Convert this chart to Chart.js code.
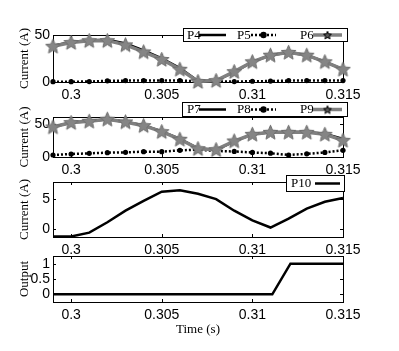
<!DOCTYPE html>
<html><head><meta charset="utf-8">
<script src="https://cdn.jsdelivr.net/npm/chart.js@4"></script>
<style>
html,body{margin:0;padding:0;background:#fff;}
#wrap{position:relative;width:399px;height:351px;overflow:hidden;}
canvas{position:absolute;left:0;top:0;}
</style></head><body>
<div id="wrap">
<canvas id="c1" width="399" height="351"></canvas>
<canvas id="c2" width="399" height="351"></canvas>
<canvas id="c3" width="399" height="351"></canvas>
<canvas id="c4" width="399" height="351"></canvas>
</div>
<script>
// ---- data ----
const time = [0.299,0.300,0.301,0.302,0.303,0.304,0.305,0.306,0.307,0.308,0.309,0.310,0.311,0.312,0.313,0.314,0.315];
const xTicks = [0.3,0.305,0.31,0.315];
const p4 = [38.5,42.5,44.5,45,41,33.5,25.2,14.8,1,1.5,10.5,21.5,28.5,31.5,28.5,21.5,13.5];
const p5 = [0.3,0.3,0.5,1.2,1.5,1.5,1.5,1.5,0.8,0.5,0.5,0.8,1,1.5,1.5,1.5,1.5];
const p6 = [38,42,44,44,39.5,32,24,13.5,0.5,1.5,11,21.5,28.5,31.5,28.5,21.5,13.5];
const p7 = [45,51.6,53.6,56.7,52.6,47.5,38.5,27,13,10.5,23.5,34,37,37.5,37.5,35,27];
const p8 = [3,4.5,5.5,6.5,7,8,8,10,11,9,8.3,6.8,5.7,3,4.7,6.8,10];
const p9 = [45,51.6,53.6,56.7,52.6,47,38,26.6,12.5,11,24,34,37,37,37,34,25];
const p10 = [-1.3,-1.3,-0.67,1.1,3.05,4.7,6.27,6.5,5.9,5.0,3.05,1.4,0.2,1.7,3.4,4.55,5.2];
const outTime = [0.299,0.3111,0.3121,0.315];
const outVal = [0,0,1,1];
const yTicks1 = [0,50];
const yTicks2 = [0,50];
const yTicks3 = [0,5];
const yTicks4 = [0,0.5,1];

// ---- helpers ----
function pts(xs, ys){ return xs.map((t,i)=>({x:t,y:ys[i]})); }
function makeStar(size, fill, stroke, lw){
  const c=document.createElement('canvas'); c.width=c.height=size;
  const g=c.getContext('2d'); const cx=size/2, cy=size/2+0.5, R=size/2-lw/2-0.3, r=R*0.45;
  g.beginPath();
  for(let i=0;i<10;i++){const a=-Math.PI/2+i*Math.PI/5; const rr=i%2?r:R; g.lineTo(cx+rr*Math.cos(a), cy+rr*Math.sin(a));}
  g.closePath(); g.fillStyle=fill; g.fill(); if(lw>0){g.lineWidth=lw; g.strokeStyle=stroke; g.stroke();}
  return c;
}
const bigStar = makeStar(17,'#858585','#6e6e6e',1);
const smallStar = makeStar(10,'#555','#000',1);

const AREA_L=53, AREA_R=343;
const SANS='"Liberation Sans", Arial, sans-serif';
const SERIF='"Liberation Serif", "Times New Roman", serif';

const framePlugin = {
  id:'frameLegend',
  beforeDatasetsDraw(chart){
    const {ctx, chartArea:a, scales} = chart;
    ctx.save(); ctx.strokeStyle='#000'; ctx.lineWidth=1;
    ctx.strokeRect(Math.round(a.left)+0.5, Math.round(a.top)+0.5, Math.round(a.right-a.left), Math.round(a.bottom-a.top));
    ctx.beginPath();
    scales.x.ticks.forEach(t=>{const px=Math.round(scales.x.getPixelForValue(t.value))+0.5;
      ctx.moveTo(px,a.bottom); ctx.lineTo(px,a.bottom-3); ctx.moveTo(px,a.top); ctx.lineTo(px,a.top+3);});
    scales.y.ticks.forEach(t=>{const py=Math.round(scales.y.getPixelForValue(t.value))+0.5;
      ctx.moveTo(a.left,py); ctx.lineTo(a.left+3,py); ctx.moveTo(a.right,py); ctx.lineTo(a.right-3,py);});
    ctx.stroke(); ctx.restore();
  },
  afterDraw(chart, args, opts){
    if(!opts || !opts.box) return;
    const {ctx} = chart; const b=opts.box;
    ctx.save();
    ctx.fillStyle='#fff'; ctx.fillRect(b[0],b[1],b[2]-b[0],b[3]-b[1]);
    ctx.strokeStyle='#000'; ctx.lineWidth=1; ctx.strokeRect(b[0]+0.5,b[1]+0.5,b[2]-b[0],b[3]-b[1]);
    const cy=(b[1]+b[3])/2+0.5;
    ctx.font='13px '+SERIF; ctx.fillStyle='#000'; ctx.textBaseline='middle'; ctx.textAlign='left';
    opts.items.forEach(it=>{
      const ds = chart.data.datasets[it.ds];
      ctx.fillStyle='#000'; ctx.fillText(ds.label, it.tx, cy+0.5);
      ctx.save(); ctx.beginPath(); ctx.strokeStyle=ds.borderColor; ctx.lineWidth=ds.borderWidth;
      ctx.setLineDash(ds.borderDash||[]); ctx.moveTo(it.l1,cy); ctx.lineTo(it.l2,cy); ctx.stroke(); ctx.restore();
      const mx=(it.l1+it.l2)/2;
      if(it.mark==='circle'){ctx.beginPath(); ctx.arc(mx,cy,3.2,0,Math.PI*2); ctx.fillStyle='#000'; ctx.fill();}
      if(it.mark==='star'){ctx.drawImage(smallStar, mx-5, cy-5);}
    });
    ctx.restore();
  }
};

function makeChart(id, cfg){
  const xh = cfg.xh || 26;
  new Chart(document.getElementById(id), {
    type:'line',
    data:{datasets:cfg.datasets},
    options:{
      responsive:false, animation:false, devicePixelRatio:1,
      layout:{padding:{top:cfg.top, left:0, right:399-AREA_R, bottom:351-cfg.bottom-xh}},
      plugins:{legend:{display:false}, tooltip:{enabled:false}, frameLegend:cfg.legend||{}},
      elements:{line:{tension:0}},
      scales:{
        x:{type:'linear', min:0.299, max:0.315,
          afterBuildTicks:s=>{s.ticks=xTicks.map(v=>({value:v}));},
          afterFit:s=>{s.height=xh;},
          grid:{display:false, drawTicks:false}, border:{display:false},
          ticks:{autoSkip:false, maxRotation:0, padding:5, color:'#000', font:{family:SANS,size:14},
            callback:v=>String(+(+v).toFixed(3))},
          title: cfg.xTitle ? {display:true, text:cfg.xTitle, color:'#000', font:{family:SERIF,size:13}, padding:{top:0,bottom:2}} : {display:false}
        },
        y:{type:'linear', min:cfg.ymin, max:cfg.ymax,
          afterBuildTicks:s=>{s.ticks=cfg.yTicks.map(v=>({value:v}));},
          afterFit:s=>{s.width=AREA_L;},
          grid:{display:false, drawTicks:false}, border:{display:false},
          ticks:{autoSkip:false, padding:3, color:'#000', font:{family:SANS,size:14}, callback:v=>String(v)},
          title:{display:true, text:cfg.yTitle, color:'#000', font:{family:SERIF,size:13}, padding:{top:17,bottom:0}}
        }
      }
    },
    plugins:[framePlugin]
  });
}

// lower "order" is drawn on top
const blackLine = (label,data)=>({label, data, order:3, borderColor:'#000', borderWidth:2.5, pointRadius:0, clip:false});
const dotLine = (label,data)=>({label, data, order:2, borderColor:'#000', borderWidth:2.5, borderDash:[2,2], pointRadius:2.6, pointBackgroundColor:'#000', pointBorderWidth:0, clip:false});
const starLine = (label,data)=>({label, data, order:1, borderColor:'#808080', borderWidth:3.5, pointStyle:bigStar, pointRadius:8, clip:false});

const legItems = [
  {ds:0, tx:187, l1:199, l2:226},
  {ds:1, tx:237, l1:251, l2:276, mark:'circle'},
  {ds:2, tx:300, l1:313, l2:342, mark:'star'}
];

makeChart('c1',{top:35, bottom:82, ymin:0, ymax:50, yTicks:yTicks1, yTitle:'Current (A)',
  datasets:[blackLine('P4',pts(time,p4)), dotLine('P5',pts(time,p5)), starLine('P6',pts(time,p6))],
  legend:{box:[183,28,347,41], items:legItems}});
makeChart('c2',{top:117, bottom:157, ymin:0, ymax:60, yTicks:yTicks2, yTitle:'Current (A)',
  datasets:[blackLine('P7',pts(time,p7)), dotLine('P8',pts(time,p8)), starLine('P9',pts(time,p9))],
  legend:{box:[182,102,347,116], items:legItems}});
makeChart('c3',{top:182, bottom:237, ymin:-1.4, ymax:7.9, yTicks:yTicks3, yTitle:'Current (A)',
  datasets:[blackLine('P10',pts(time,p10))],
  legend:{box:[286,175,344,191], items:[{ds:0, tx:291, l1:315, l2:340}]}});
makeChart('c4',{top:256, bottom:302, ymin:-0.25, ymax:1.25, yTicks:yTicks4, yTitle:'Output', xh:37, xTitle:'Time (s)',
  datasets:[blackLine('Output',pts(outTime,outVal))]});
</script>
</body></html>
